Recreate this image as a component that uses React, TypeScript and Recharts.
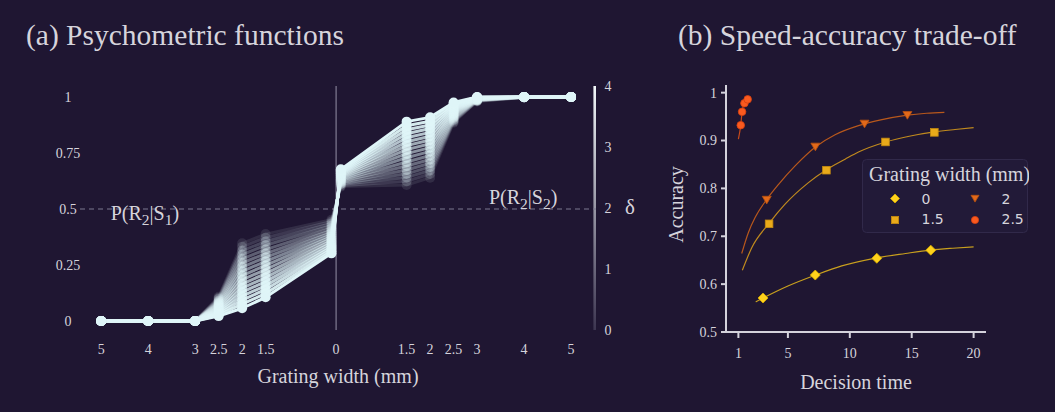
import React from "react";
import {
  LineChart,
  Line,
  ComposedChart,
  Scatter,
  XAxis,
  YAxis,
  ReferenceLine,
  ReferenceDot,
  ReferenceArea,
} from "recharts";

const BG = "#1f1632";
const TEXT = "#d6d4dc";
const SERIF = '"Liberation Serif", "Times New Roman", serif';
const SANS = '"DejaVu Sans", sans-serif';
const CURVE = "#dff5f8";

// ---- (a) psychometric functions ----
// signed grating width (negative = S1 side); the two points round 0 sit either side of the zero line
const widthSigned = [-5, -4, -3, -2.5, -2, -1.5, -0.1, 0.1, 1.5, 2, 2.5, 3, 4, 5];
const widthTicks = [-5, -4, -3, -2.5, -2, -1.5, 0, 1.5, 2, 2.5, 3, 4, 5];
const probTicks = [0, 0.25, 0.5, 0.75, 1];
const deltaTicks = [0, 1, 2, 3, 4];
const deltaLevels = [0, 0.25, 0.5, 0.75, 1, 1.25, 1.5, 1.75, 2, 2.25, 2.5, 2.75, 3, 3.25, 3.5, 3.75, 4];

// P(R2) per delta level, one value per entry of widthSigned
const pR2ByDelta = [
  [0, 0, 0, 0.108, 0.347, 0.388, 0.452, 0.6, 0.607, 0.64, 0.885, 0.98, 0.998, 1],
  [0, 0, 0, 0.103, 0.331, 0.372, 0.444, 0.604, 0.624, 0.656, 0.89, 0.981, 0.998, 1],
  [0, 0, 0, 0.098, 0.314, 0.355, 0.435, 0.609, 0.641, 0.672, 0.895, 0.982, 0.998, 1],
  [0, 0, 0, 0.092, 0.296, 0.338, 0.425, 0.613, 0.657, 0.688, 0.9, 0.984, 0.999, 1],
  [0, 0, 0, 0.087, 0.277, 0.319, 0.414, 0.618, 0.674, 0.704, 0.906, 0.985, 0.999, 1],
  [0, 0, 0, 0.081, 0.259, 0.301, 0.404, 0.623, 0.692, 0.721, 0.912, 0.986, 0.999, 1],
  [0, 0, 0, 0.076, 0.241, 0.284, 0.395, 0.628, 0.71, 0.739, 0.918, 0.988, 0.999, 1],
  [0, 0, 0, 0.07, 0.222, 0.266, 0.386, 0.633, 0.729, 0.757, 0.924, 0.989, 0.999, 1],
  [0, 0, 0, 0.065, 0.203, 0.248, 0.377, 0.638, 0.747, 0.774, 0.93, 0.99, 1, 1],
  [0, 0, 0, 0.06, 0.184, 0.23, 0.368, 0.643, 0.765, 0.791, 0.936, 0.991, 1, 1],
  [0, 0, 0, 0.054, 0.165, 0.212, 0.358, 0.648, 0.783, 0.808, 0.941, 0.993, 1, 1],
  [0, 0, 0, 0.049, 0.147, 0.194, 0.349, 0.653, 0.8, 0.825, 0.947, 0.994, 1, 1],
  [0, 0, 0, 0.043, 0.129, 0.176, 0.339, 0.658, 0.818, 0.842, 0.953, 0.995, 1, 1],
  [0, 0, 0, 0.038, 0.111, 0.158, 0.33, 0.662, 0.836, 0.859, 0.958, 0.996, 1, 1],
  [0, 0, 0, 0.033, 0.093, 0.141, 0.321, 0.667, 0.854, 0.875, 0.964, 0.998, 1, 1],
  [0, 0, 0, 0.027, 0.075, 0.123, 0.311, 0.672, 0.872, 0.892, 0.969, 0.999, 1, 1],
  [0, 0, 0, 0.022, 0.057, 0.106, 0.302, 0.677, 0.89, 0.909, 0.975, 1, 1, 1],
];

const psychRows = widthSigned.map((x, i) => {
  const row: Record<string, number> = { x };
  pR2ByDelta.forEach((vals, k) => {
    row[`d${k}`] = vals[i];
  });
  return row;
});

// ---- (b) speed-accuracy trade-off ----
const points0 = [
  { t: 2.99, acc: 0.571 },
  { t: 7.21, acc: 0.619 },
  { t: 12.18, acc: 0.654 },
  { t: 16.54, acc: 0.671 },
];
const points15 = [
  { t: 3.48, acc: 0.726 },
  { t: 8.11, acc: 0.838 },
  { t: 12.88, acc: 0.897 },
  { t: 16.83, acc: 0.917 },
];
const points2 = [
  { t: 3.29, acc: 0.776 },
  { t: 7.22, acc: 0.887 },
  { t: 11.19, acc: 0.935 },
  { t: 14.65, acc: 0.953 },
];
const points25 = [
  { t: 1.19, acc: 0.932 },
  { t: 1.3, acc: 0.96 },
  { t: 1.49, acc: 0.978 },
  { t: 1.75, acc: 0.986 },
];

const fit0 = [
  { t: 2.4, acc: 0.563 },
  { t: 3.0, acc: 0.571 },
  { t: 5.0, acc: 0.596 },
  { t: 7.25, acc: 0.619 },
  { t: 9.35, acc: 0.638 },
  { t: 12.2, acc: 0.655 },
  { t: 14.5, acc: 0.664 },
  { t: 16.5, acc: 0.671 },
  { t: 18.3, acc: 0.675 },
  { t: 20, acc: 0.678 },
];
const fit15 = [
  { t: 1.32, acc: 0.629 },
  { t: 2.08, acc: 0.676 },
  { t: 3.48, acc: 0.727 },
  { t: 4.77, acc: 0.767 },
  { t: 6.66, acc: 0.812 },
  { t: 8.11, acc: 0.839 },
  { t: 9.62, acc: 0.861 },
  { t: 10.7, acc: 0.876 },
  { t: 12.9, acc: 0.897 },
  { t: 14.8, acc: 0.909 },
  { t: 16.83, acc: 0.918 },
  { t: 18.5, acc: 0.923 },
  { t: 20, acc: 0.927 },
];
const fit2 = [
  { t: 1.27, acc: 0.664 },
  { t: 1.81, acc: 0.708 },
  { t: 2.35, acc: 0.739 },
  { t: 3.29, acc: 0.777 },
  { t: 4.23, acc: 0.808 },
  { t: 5.58, acc: 0.847 },
  { t: 7.25, acc: 0.887 },
  { t: 8.81, acc: 0.912 },
  { t: 10.7, acc: 0.931 },
  { t: 12.5, acc: 0.943 },
  { t: 14.65, acc: 0.953 },
  { t: 16.2, acc: 0.957 },
  { t: 17.64, acc: 0.959 },
];
const fit25 = [
  { t: 1.0, acc: 0.903 },
  { t: 1.19, acc: 0.932 },
  { t: 1.3, acc: 0.96 },
  { t: 1.49, acc: 0.978 },
  { t: 1.75, acc: 0.987 },
  { t: 1.83, acc: 0.991 },
];

const timeTicks = [1, 5, 10, 15, 20];
const accTicks = [0.5, 0.6, 0.7, 0.8, 0.9, 1];

const C0 = "#ffd21c";
const C15 = "#e9aa1a";
const C2 = "#e2691a";
const C25 = "#fa5a1f";

const Diamond = ({ cx, cy, size = 5, fill = C0 }: any) => (
  <polygon
    points={`${cx},${cy - size} ${cx + size},${cy} ${cx},${cy + size} ${cx - size},${cy}`}
    fill={fill}
    stroke="#d9ad00"
    strokeWidth={0.8}
  />
);
const Square = ({ cx, cy, size = 3.8, fill = C15 }: any) => (
  <rect x={cx - size} y={cy - size} width={size * 2} height={size * 2} fill={fill} stroke="#c48a10" strokeWidth={0.8} />
);
const TriDown = ({ cx, cy, size = 4.5, fill = C2 }: any) => (
  <polygon
    points={`${cx - size},${cy - size * 0.8} ${cx + size},${cy - size * 0.8} ${cx},${cy + size * 0.9}`}
    fill={fill}
    stroke="#b8500f"
    strokeWidth={0.8}
  />
);
const Circ = ({ cx, cy, size = 3.8, fill = C25 }: any) => (
  <circle cx={cx} cy={cy} r={size} fill={fill} stroke="#d84010" strokeWidth={0.8} />
);

const PLabel = ({ viewBox, s }: any) => {
  const cx = viewBox.x + viewBox.width / 2;
  const cy = viewBox.y + viewBox.height / 2;
  return (
    <text x={cx} y={cy + 7} textAnchor="middle" fill={TEXT} fontFamily={SERIF} fontSize={20}>
      P(R
      <tspan fontSize={15.5} dy={5}>2</tspan>
      <tspan dy={-5}>|S</tspan>
      <tspan fontSize={15.5} dy={5}>{s}</tspan>
      <tspan dy={-5}>)</tspan>
    </text>
  );
};

function PsychPanel() {
  return (
    <LineChart width={660} height={412} data={psychRows} margin={{ top: 86, right: 0, bottom: 32, left: 0 }}>
      <defs>
        <linearGradient id="deltaBar" x1="0" y1="0" x2="0" y2="1">
          <stop offset="0" stopColor="#f2f8fa" />
          <stop offset="1" stopColor="#3d3651" />
        </linearGradient>
      </defs>
      <XAxis
        type="number"
        dataKey="x"
        domain={[-5.45, 5.53]}
        allowDataOverflow
        ticks={widthTicks}
        interval={0}
        axisLine={false}
        tickLine={false}
        tickSize={0}
        tickMargin={0}
        height={50}
        tick={({ x, y, payload }: any) => (
          <text x={x} y={y + 24} textAnchor="middle" fill={TEXT} fontFamily={SERIF} fontSize={14}>
            {String(Math.abs(payload.value))}
          </text>
        )}
        label={{
          content: ({ viewBox }: any) => (
            <text
              x={viewBox.x + viewBox.width / 2}
              y={viewBox.y + 53}
              textAnchor="middle"
              fill={TEXT}
              fontFamily={SERIF}
              fontSize={20}
            >
              Grating width (mm)
            </text>
          ),
        }}
      />
      <YAxis
        yAxisId="p"
        type="number"
        domain={[-0.04, 1.049]}
        allowDataOverflow
        ticks={probTicks}
        width={80}
        axisLine={false}
        tickLine={false}
        tickSize={0}
        tickMargin={0}
        tick={({ x, y, payload }: any) => (
          <text x={x - 12} y={y + 5} textAnchor="middle" fill={TEXT} fontFamily={SERIF} fontSize={14}>
            {String(payload.value)}
          </text>
        )}
      />
      <YAxis
        yAxisId="delta"
        orientation="right"
        type="number"
        domain={[0, 4]}
        allowDataOverflow
        ticks={deltaTicks}
        interval={0}
        width={64}
        axisLine={false}
        tickLine={false}
        tickSize={0}
        tickMargin={0}
        tick={({ x, y, payload }: any) => (
          <text x={x + 12} y={y + 5} textAnchor="middle" fill={TEXT} fontFamily={SERIF} fontSize={14}>
            {String(payload.value)}
          </text>
        )}
        label={{
          content: ({ viewBox }: any) => (
            <text
              x={viewBox.x + 34}
              y={viewBox.y + viewBox.height / 2 + 6}
              textAnchor="middle"
              fill={TEXT}
              fontFamily={SERIF}
              fontSize={21}
            >
              δ
            </text>
          ),
        }}
      />
      <ReferenceArea
        yAxisId="delta"
        x1={5.475}
        x2={5.53}
        y1={0}
        y2={4}
        fill="url(#deltaBar)"
        fillOpacity={1}
        stroke="none"
      />
      <ReferenceLine yAxisId="p" y={0.5} stroke="#7d7890" strokeDasharray="5 4" strokeWidth={1} />
      <ReferenceLine yAxisId="p" x={0} stroke="#6e6880" strokeWidth={1.5} />
      {deltaLevels.map((d, k) => {
        const op = 0.1 + (0.9 * d) / 4;
        return (
          <Line
            key={k}
            yAxisId="p"
            type="linear"
            dataKey={`d${k}`}
            stroke={CURVE}
            strokeOpacity={op}
            strokeWidth={3}
            strokeLinejoin="round"
            dot={{ r: 5, fill: CURVE, fillOpacity: op, stroke: "none" }}
            isAnimationActive={false}
          />
        );
      })}
      <ReferenceDot
        yAxisId="p"
        x={-4.07}
        y={0.482}
        r={0.5}
        fill="none"
        stroke="none"
        label={{ content: (p: any) => <PLabel {...p} s="1" /> }}
      />
      <ReferenceDot
        yAxisId="p"
        x={3.98}
        y={0.554}
        r={0.5}
        fill="none"
        stroke="none"
        label={{ content: (p: any) => <PLabel {...p} s="2" /> }}
      />
    </LineChart>
  );
}

const AX = "#d4d2dc";

function SpeedPanel() {
  return (
    <ComposedChart width={395} height={412} margin={{ top: 85, right: 69, bottom: 20, left: 0 }}>
      <XAxis
        type="number"
        dataKey="t"
        domain={[0, 21]}
        ticks={timeTicks}
        interval={0}
        height={60}
        axisLine={{ stroke: AX, strokeWidth: 2 }}
        tickLine={{ stroke: AX, strokeWidth: 2 }}
        tickSize={6}
        tickMargin={10}
        tick={{ fill: TEXT, fontFamily: SERIF, fontSize: 14 }}
        label={{
          content: ({ viewBox }: any) => (
            <text
              x={viewBox.x + viewBox.width / 2}
              y={viewBox.y + 57}
              textAnchor="middle"
              fill={TEXT}
              fontFamily={SERIF}
              fontSize={20}
            >
              Decision time
            </text>
          ),
        }}
      />
      <YAxis
        type="number"
        dataKey="acc"
        domain={[0.5, 1.016]}
        ticks={accTicks}
        interval={0}
        width={66}
        axisLine={{ stroke: AX, strokeWidth: 2 }}
        tickLine={{ stroke: AX, strokeWidth: 2 }}
        tickSize={5}
        tickMargin={4}
        tick={{ fill: TEXT, fontFamily: SERIF, fontSize: 14 }}
        label={{
          content: ({ viewBox }: any) => {
            const x = viewBox.x + 23;
            const y = viewBox.y + viewBox.height / 2 - 4;
            return (
              <text
                x={x}
                y={y}
                transform={`rotate(-90 ${x} ${y})`}
                textAnchor="middle"
                fill={TEXT}
                fontFamily={SERIF}
                fontSize={20}
              >
                Accuracy
              </text>
            );
          },
        }}
      />
      <Line data={fit0} dataKey="acc" type="monotone" stroke="#c9a01e" strokeWidth={1.2} dot={false} isAnimationActive={false} />
      <Line data={fit15} dataKey="acc" type="monotone" stroke="#c08a1e" strokeWidth={1.2} dot={false} isAnimationActive={false} />
      <Line data={fit2} dataKey="acc" type="monotone" stroke="#b8581c" strokeWidth={1.2} dot={false} isAnimationActive={false} />
      <Line data={fit25} dataKey="acc" type="monotone" stroke="#c84a1a" strokeWidth={1.2} dot={false} isAnimationActive={false} />
      <Scatter data={points0} shape={(p: any) => <Diamond cx={p.cx} cy={p.cy} />} isAnimationActive={false} />
      <Scatter data={points15} shape={(p: any) => <Square cx={p.cx} cy={p.cy} />} isAnimationActive={false} />
      <Scatter data={points2} shape={(p: any) => <TriDown cx={p.cx} cy={p.cy} />} isAnimationActive={false} />
      <Scatter data={points25} shape={(p: any) => <Circ cx={p.cx} cy={p.cy} />} isAnimationActive={false} />
    </ComposedChart>
  );
}

const legendItems = [
  { label: "0", Shape: Diamond, col: 0, row: 0 },
  { label: "1.5", Shape: Square, col: 0, row: 1 },
  { label: "2", Shape: TriDown, col: 1, row: 0 },
  { label: "2.5", Shape: Circ, col: 1, row: 1 },
];

function WidthLegend() {
  return (
    <svg width={167} height={75} style={{ position: "absolute", left: 862, top: 159 }}>
      <rect x={0.5} y={0.5} width={165} height={73} rx={4} fill="#221a38" stroke="#31294a" />
      <text x={7} y={21.5} fill={TEXT} fontFamily={SERIF} fontSize={20}>
        Grating width (mm)
      </text>
      {legendItems.map(({ label, Shape, col, row }) => {
        const cx = col === 0 ? 33 : 113;
        const cy = row === 0 ? 39.5 : 61;
        const shapeSize = Shape === Diamond ? 4.5 : Shape === TriDown ? 4 : 3.6;
        return (
          <g key={label}>
            <Shape cx={cx} cy={cy} size={shapeSize} />
            <text x={col === 0 ? 59.5 : 139.5} y={row === 0 ? 44.5 : 65} fill={TEXT} fontFamily={SANS} fontSize={14}>
              {label}
            </text>
          </g>
        );
      })}
    </svg>
  );
}

export default function App() {
  return (
    <div
      style={{
        position: "absolute",
        left: 0,
        top: 0,
        width: 1055,
        height: 412,
        background: BG,
        overflow: "hidden",
      }}
    >
      <div style={{ position: "absolute", left: 0, top: 0 }}>
        <PsychPanel />
      </div>
      <div style={{ position: "absolute", left: 660, top: 0 }}>
        <SpeedPanel />
      </div>
      <WidthLegend />
      <svg width={1055} height={60} style={{ position: "absolute", left: 0, top: 0 }}>
        <text x={26} y={44.5} fill={TEXT} fontFamily={SERIF} fontSize={29.5}>
          (a) Psychometric functions
        </text>
        <text x={678} y={44.5} fill={TEXT} fontFamily={SERIF} fontSize={29.5}>
          (b) Speed-accuracy trade-off
        </text>
      </svg>
    </div>
  );
}
